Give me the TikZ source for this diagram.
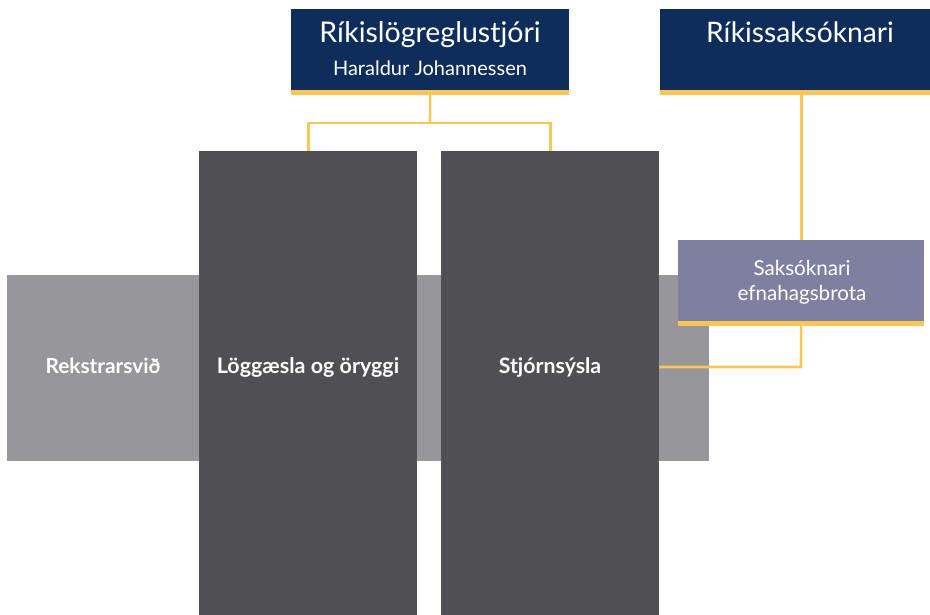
\documentclass[tikz,border=0pt]{standalone}
\usepackage{fontspec}
\setmainfont{Lato}

\definecolor{navy}{RGB}{14,45,91}
\definecolor{gold}{RGB}{250,198,88}
\definecolor{slate}{RGB}{80,79,84}
\definecolor{ash}{RGB}{151,150,155}
\definecolor{lilac}{RGB}{127,128,160}

\begin{document}
\begin{tikzpicture}[x=1pt,y=-1pt]

% ---------- styles ----------
\tikzset{
  box/.style={rectangle,draw=none,inner sep=0pt,anchor=north west},
  head/.style={box,fill=navy},
  unit/.style={box,fill=slate},
  band/.style={box,fill=ash},
  link/.style={draw=gold,line width=2.6pt},
  txt/.style={text=white,anchor=base,inner sep=0pt}
}

\useasboundingbox (0,0) rectangle (930,615);

% ---------- grey band ----------
\node[band,minimum width=702pt,minimum height=186pt] (rek) at (7,275) {};

% ---------- boxes ----------
\node[head,minimum width=278pt,minimum height=81pt] (rls)  at (291,9)  {};
\node[head,minimum width=270pt,minimum height=81pt] (rsak) at (660,9)  {};
\node[unit,minimum width=218pt,minimum height=464pt] (los) at (199,151) {};
\node[unit,minimum width=218pt,minimum height=464pt] (stj) at (441,151) {};
\node[box,fill=lilac,minimum width=246pt,minimum height=81pt] (sak) at (678,240) {};

% ---------- connectors ----------
\coordinate (split) at (430,123);
\coordinate (join)  at (801,367);
\draw[link] (rls.south) -- (split);
\draw[link] (los.north) |- (split) -| (stj.north);
\draw[link] (rsak.south -| sak.north) -- (sak.north);
\draw[link] (sak.south) -- (join) -- (join -| stj.east);

% ---------- gold rules ----------
\fill[gold] (rls.south west)  rectangle ++(278,5);
\fill[gold] (rsak.south west) rectangle ++(270,5);
\fill[gold] (sak.south west)  rectangle ++(246,5);

% ---------- labels ----------
\node[txt,font=\fontsize{28.5}{32}\selectfont] (rlsA) at (430,43) {Ríkislögreglustjóri};
\node[txt,font=\fontsize{20}{24}\selectfont] (rlsB) at (430,76) {Haraldur Johannessen};
\node[txt,font=\fontsize{28.2}{32}\selectfont] (rsakA) at (800,43) {Ríkissaksóknari};
\node[txt,font=\fontsize{20.6}{24}\selectfont] (sakA) at (802,276) {Saksóknari};
\node[txt,font=\fontsize{20.6}{24}\selectfont] (sakB) at (802,300) {efnahagsbrota};
\node[txt,font=\bfseries\fontsize{20.8}{24}\selectfont] (rekA) at (103,373) {Rekstrarsvið};
\node[txt,font=\bfseries\fontsize{21.5}{24}\selectfont] (losA) at (308,373) {Löggæsla og öryggi};
\node[txt,font=\bfseries\fontsize{21.3}{24}\selectfont] (stjA) at (550,373) {Stjórnsýsla};

\end{tikzpicture}
\end{document}
